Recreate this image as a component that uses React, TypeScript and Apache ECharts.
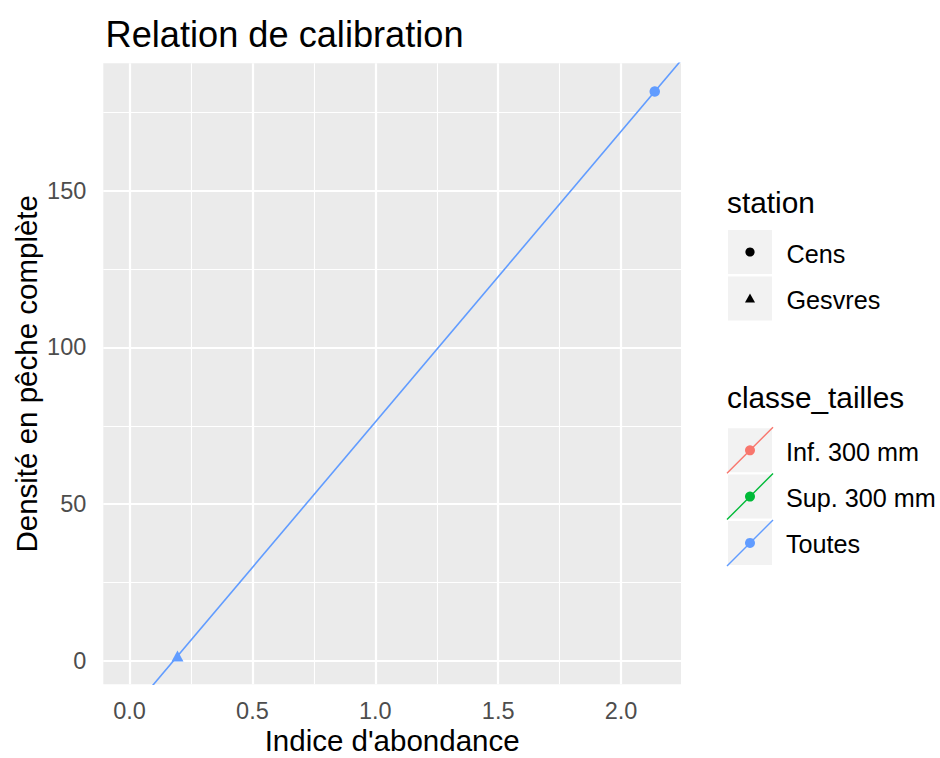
import React, { useEffect, useRef } from "react";
import * as echarts from "echarts";

// ---- data ----
const stations = ["Cens", "Gesvres"];
const stationSymbols = ["circle", "triangle"];
const sizeClasses = ["Inf. 300 mm", "Sup. 300 mm", "Toutes"];
const classColors = ["#F8766D", "#00BA38", "#619CFF"];
// "Toutes" observations: abundance index vs complete-fishing density, per station
const toutesIndex = [2.137, 0.195];
const toutesDensity = [181.7, 1.5];
const xTicks = [0, 0.5, 1, 1.5, 2];
const xMinorTicks = [0.25, 0.75, 1.25, 1.75];
const yTicks = [0, 50, 100, 150];
const yMinorTicks = [25, 75, 125, 175];

const FONT = "'Liberation Sans', Arial, Helvetica, sans-serif";

function linearFit(xs: number[], ys: number[]) {
  const n = xs.length;
  const mx = xs.reduce((a, b) => a + b, 0) / n;
  const my = ys.reduce((a, b) => a + b, 0) / n;
  let sxy = 0;
  let sxx = 0;
  for (let i = 0; i < n; i++) {
    sxy += (xs[i] - mx) * (ys[i] - my);
    sxx += (xs[i] - mx) * (xs[i] - mx);
  }
  const slope = sxy / sxx;
  return { slope, intercept: my - slope * mx };
}

function expand(lo: number, hi: number) {
  const pad = (hi - lo) * 0.05;
  return [lo - pad, hi + pad];
}

export default function App() {
  const ref = useRef<HTMLDivElement>(null);

  useEffect(() => {
    if (!ref.current) return;
    const chart = echarts.init(ref.current, undefined, { renderer: "svg" });

    const [xLo, xHi] = expand(Math.min(0, ...toutesIndex), Math.max(...toutesIndex));
    const [yLo, yHi] = expand(Math.min(...toutesDensity), Math.max(...toutesDensity));
    const fit = linearFit(toutesIndex, toutesDensity);
    const lineData = [
      [xLo, fit.intercept + fit.slope * xLo],
      [xHi, fit.intercept + fit.slope * xHi],
    ];

    const gridLines = [
      ...xMinorTicks.map((v) => ({ xAxis: v, lineStyle: { width: 1.1 } })),
      ...yMinorTicks.map((v) => ({ yAxis: v, lineStyle: { width: 1.1 } })),
      ...xTicks.map((v) => ({ xAxis: v, lineStyle: { width: 2.2 } })),
      ...yTicks.map((v) => ({ yAxis: v, lineStyle: { width: 2.2 } })),
    ];

    // custom legend
    const keyX = 728;
    const keySize = 44;
    const legend: any[] = [];
    const titleStyle = { fontSize: 29.8, fontFamily: FONT, fill: "#000" };
    const labelStyle = { fontSize: 25.2, fontFamily: FONT, fill: "#000" };
    legend.push({
      type: "text",
      x: 727,
      y: 202.7,
      style: { text: "station", ...titleStyle, verticalAlign: "middle" },
    });
    const stationKeyTop = [230, 276.6];
    stations.forEach((s, i) => {
      const top = stationKeyTop[i];
      const cx = keyX + keySize / 2;
      const cy = top + keySize / 2;
      legend.push({
        type: "rect",
        shape: { x: keyX, y: top, width: keySize, height: keySize },
        style: { fill: "#F2F2F2" },
      });
      if (stationSymbols[i] === "circle") {
        legend.push({ type: "circle", shape: { cx, cy, r: 4.6 }, style: { fill: "#000" } });
      } else {
        legend.push({
          type: "polygon",
          shape: { points: [[cx, cy - 5], [cx + 5, cy + 3.8], [cx - 5, cy + 3.8]] },
          style: { fill: "#000" },
        });
      }
      legend.push({
        type: "text",
        x: 786.5,
        y: cy + 1.5,
        style: { text: s, ...labelStyle, verticalAlign: "middle" },
      });
    });
    legend.push({
      type: "text",
      x: 727,
      y: 397.7,
      style: { text: "classe_tailles", ...titleStyle, verticalAlign: "middle" },
    });
    const classKeyTop = [428.3, 474.6, 520.9];
    sizeClasses.forEach((c, i) => {
      const top = classKeyTop[i];
      const cx = keyX + keySize / 2;
      const cy = top + keySize / 2;
      legend.push({
        type: "rect",
        shape: { x: keyX, y: top, width: keySize, height: keySize },
        style: { fill: "#F2F2F2" },
      });
      legend.push({
        type: "line",
        shape: { x1: keyX - 1, y1: top + keySize + 1, x2: keyX + keySize + 1, y2: top - 1 },
        style: { stroke: classColors[i], lineWidth: 1.4 },
      });
      legend.push({ type: "circle", shape: { cx, cy, r: 5 }, style: { fill: classColors[i] } });
      legend.push({
        type: "text",
        x: 786,
        y: cy + 1.5,
        style: { text: c, ...labelStyle, verticalAlign: "middle" },
      });
    });

    const scatterData = toutesIndex.map((x, i) => ({
      value: [x, toutesDensity[i]],
      name: stations[i],
      symbol: stationSymbols[i],
      symbolSize: stationSymbols[i] === "circle" ? 10.5 : [12, 11],
    }));

    chart.setOption({
      animation: false,
      backgroundColor: "#FFFFFF",
      textStyle: { fontFamily: FONT },
      title: {
        text: "Relation de calibration",
        left: 100.5,
        top: 11,
        textStyle: { fontSize: 36.2, fontWeight: "normal", color: "#000", fontFamily: FONT },
      },
      grid: {
        left: 103.3,
        top: 63.3,
        width: 577.7,
        height: 621,
        show: true,
        backgroundColor: "#EBEBEB",
        borderWidth: 0,
        containLabel: false,
        outerBoundsMode: "none",
      },
      xAxis: {
        type: "value",
        min: xLo,
        max: xHi,
        axisLine: { show: false },
        splitLine: { show: false },
        axisTick: {
          show: true,
          length: 6.5,
          customValues: xTicks,
          lineStyle: { color: "#333333", width: 1.5 },
        },
        axisLabel: {
          customValues: xTicks,
          formatter: (v: number) => v.toFixed(1),
          color: "#4D4D4D",
          fontSize: 23.5,
          margin: 15,
          fontFamily: FONT,
        },
        name: "Indice d'abondance",
        nameLocation: "middle",
        nameGap: 41,
        nameMoveOverlap: false,
        nameTextStyle: { fontSize: 29.5, lineHeight: 29.5, color: "#000", fontFamily: FONT },
      },
      yAxis: {
        type: "value",
        min: yLo,
        max: yHi,
        axisLine: { show: false },
        splitLine: { show: false },
        axisTick: {
          show: true,
          length: 6.5,
          customValues: yTicks,
          lineStyle: { color: "#333333", width: 1.5 },
        },
        axisLabel: {
          customValues: yTicks,
          formatter: (v: number) => String(Math.round(v)),
          color: "#4D4D4D",
          fontSize: 23.5,
          margin: 17,
          fontFamily: FONT,
        },
        name: "Densité en pêche complète",
        nameLocation: "middle",
        nameGap: 62,
        nameRotate: 90,
        nameMoveOverlap: false,
        nameTextStyle: { fontSize: 29.5, color: "#000", fontFamily: FONT },
      },
      series: [
        {
          name: "Toutes (ajustement)",
          type: "line",
          data: lineData,
          showSymbol: false,
          symbol: "none",
          clip: true,
          z: 3,
          silent: true,
          lineStyle: { color: classColors[2], width: 1.6 },
          markLine: {
            silent: true,
            z: 1,
            symbol: ["none", "none"],
            label: { show: false },
            emphasis: { disabled: true },
            lineStyle: { color: "#FFFFFF", type: "solid" },
            data: gridLines,
          },
        },
        {
          name: "Toutes",
          type: "scatter",
          data: scatterData,
          z: 4,
          itemStyle: { color: classColors[2], opacity: 1 },
        },
      ],
      graphic: legend,
    });

    return () => chart.dispose();
  }, []);

  return (
    <div
      ref={ref}
      style={{ position: "absolute", left: 0, top: 0, width: 940, height: 758 }}
    />
  );
}
